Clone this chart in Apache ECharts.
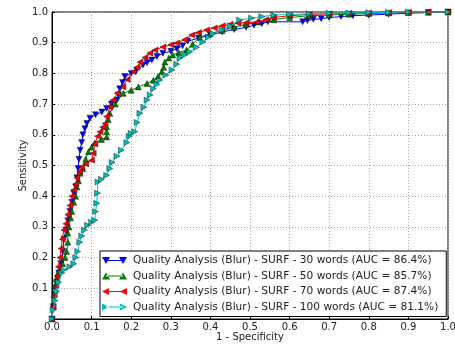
<!DOCTYPE html>
<html>
<head>
<meta charset="utf-8">
<script src="https://cdn.jsdelivr.net/npm/echarts@6/dist/echarts.min.js"></script>
<style>
  html, body { margin: 0; padding: 0; background: #fff; }
  #roc-chart { width: 455px; height: 345px; }
</style>
</head>
<body>
<div id="roc-chart"></div>
<script>
// [1 - specificity, sensitivity]
const roc30 = [[0,0],[0.003,0.04],[0.007,0.08],[0.012,0.12],[0.017,0.15],[0.022,0.18],[0.027,0.22],[0.03,0.26],[0.035,0.29],[0.04,0.32],[0.045,0.35],[0.05,0.38],[0.055,0.41],[0.06,0.43],[0.063,0.46],[0.066,0.49],[0.068,0.52],[0.071,0.55],[0.075,0.575],[0.078,0.6],[0.083,0.62],[0.088,0.637],[0.096,0.654],[0.11,0.665],[0.126,0.674],[0.138,0.686],[0.15,0.7],[0.164,0.713],[0.168,0.73],[0.171,0.75],[0.178,0.77],[0.184,0.79],[0.2,0.8],[0.214,0.81],[0.23,0.827],[0.24,0.835],[0.252,0.844],[0.265,0.855],[0.28,0.866],[0.3,0.872],[0.315,0.88],[0.33,0.89],[0.343,0.905],[0.37,0.915],[0.4,0.925],[0.43,0.935],[0.46,0.943],[0.49,0.95],[0.51,0.957],[0.53,0.962],[0.545,0.968],[0.633,0.968],[0.645,0.972],[0.66,0.976],[0.68,0.978],[0.7,0.982],[0.73,0.985],[0.76,0.988],[0.8,0.99],[0.85,0.993],[0.9,0.996],[0.95,0.998],[1,1]];
const roc50 = [[0,0],[0.003,0.04],[0.005,0.08],[0.008,0.11],[0.01,0.13],[0.015,0.15],[0.02,0.16],[0.027,0.18],[0.033,0.2],[0.037,0.22],[0.04,0.25],[0.04,0.28],[0.043,0.3],[0.047,0.33],[0.05,0.35],[0.055,0.38],[0.06,0.4],[0.063,0.43],[0.067,0.45],[0.071,0.475],[0.078,0.49],[0.085,0.52],[0.092,0.545],[0.1,0.56],[0.108,0.573],[0.125,0.585],[0.138,0.593],[0.138,0.61],[0.138,0.626],[0.142,0.65],[0.146,0.67],[0.16,0.7],[0.18,0.735],[0.2,0.745],[0.218,0.756],[0.24,0.767],[0.256,0.778],[0.268,0.79],[0.277,0.805],[0.282,0.82],[0.285,0.837],[0.295,0.85],[0.305,0.86],[0.32,0.868],[0.34,0.876],[0.355,0.895],[0.373,0.918],[0.4,0.93],[0.43,0.94],[0.46,0.95],[0.49,0.96],[0.52,0.968],[0.56,0.975],[0.6,0.982],[0.65,0.988],[0.7,0.99],[0.75,0.993],[0.8,0.995],[0.85,0.997],[0.9,0.998],[0.95,0.999],[1,1]];
const roc70 = [[0,0],[0.003,0.04],[0.006,0.08],[0.01,0.11],[0.013,0.14],[0.016,0.17],[0.02,0.2],[0.023,0.23],[0.026,0.26],[0.03,0.29],[0.035,0.31],[0.04,0.34],[0.045,0.37],[0.05,0.4],[0.055,0.42],[0.06,0.44],[0.063,0.46],[0.07,0.48],[0.075,0.495],[0.085,0.505],[0.1,0.517],[0.104,0.54],[0.108,0.57],[0.115,0.595],[0.121,0.61],[0.128,0.625],[0.134,0.637],[0.138,0.66],[0.146,0.69],[0.154,0.713],[0.165,0.735],[0.179,0.756],[0.19,0.78],[0.205,0.805],[0.215,0.82],[0.222,0.837],[0.235,0.852],[0.247,0.866],[0.26,0.876],[0.28,0.886],[0.3,0.893],[0.315,0.899],[0.335,0.91],[0.353,0.925],[0.37,0.933],[0.39,0.941],[0.41,0.948],[0.43,0.955],[0.45,0.96],[0.47,0.963],[0.49,0.965],[0.517,0.967],[0.54,0.975],[0.56,0.982],[0.6,0.988],[0.65,0.992],[0.7,0.994],[0.75,0.996],[0.8,0.997],[0.85,0.998],[0.9,0.999],[0.95,1],[1,1]];
const roc100 = [[0,0],[0.003,0.03],[0.008,0.06],[0.012,0.09],[0.017,0.12],[0.025,0.15],[0.03,0.16],[0.045,0.17],[0.055,0.18],[0.06,0.2],[0.065,0.22],[0.07,0.25],[0.075,0.27],[0.082,0.29],[0.09,0.305],[0.1,0.315],[0.108,0.322],[0.11,0.35],[0.113,0.377],[0.115,0.41],[0.116,0.446],[0.125,0.455],[0.138,0.468],[0.146,0.49],[0.152,0.51],[0.164,0.53],[0.175,0.55],[0.189,0.575],[0.195,0.595],[0.2,0.605],[0.209,0.61],[0.215,0.64],[0.222,0.67],[0.232,0.69],[0.24,0.713],[0.248,0.73],[0.256,0.75],[0.265,0.765],[0.272,0.778],[0.288,0.795],[0.303,0.811],[0.315,0.83],[0.323,0.85],[0.335,0.86],[0.348,0.87],[0.365,0.885],[0.381,0.902],[0.395,0.918],[0.406,0.93],[0.429,0.941],[0.45,0.955],[0.474,0.974],[0.504,0.98],[0.53,0.985],[0.56,0.99],[0.6,0.992],[0.65,0.994],[0.7,0.996],[0.75,0.997],[0.8,0.998],[0.85,0.999],[0.9,1],[1,1]];

const seriesNames = [
  "Quality Analysis (Blur) - SURF - 30 words (AUC = 86.4%)",
  "Quality Analysis (Blur) - SURF - 50 words (AUC = 85.7%)",
  "Quality Analysis (Blur) - SURF - 70 words (AUC = 87.4%)",
  "Quality Analysis (Blur) - SURF - 100 words (AUC = 81.1%)",
];
const seriesData = [roc30, roc50, roc70, roc100];
const seriesColors = ["#0000ff", "#008000", "#ff0000", "#00bfbf"];
const markerRotate = [180, 0, 90, -90];

// legend icons: line with a marker at each end (matplotlib style)
const legendIcons = [
  "path://M0,0L8,0L4,7ZM4,3L21,3L21,4L4,4ZM17,0L25,0L21,7Z",
  "path://M0,7L8,7L4,0ZM4,3L21,3L21,4L4,4ZM17,7L25,7L21,0Z",
  "path://M0,3.5L7,0L7,7ZM4,3L21,3L21,4L4,4ZM18,3.5L25,0L25,7Z",
  "path://M7,3.5L0,0L0,7ZM4,3L21,3L21,4L4,4ZM25,3.5L18,0L18,7Z",
];

const font = "DejaVu Sans";
const gridLine = { show: true, lineStyle: { type: [1, 2], color: "#a8a8a8", width: 1 } };

const option = {
  animation: false,
  textStyle: { fontFamily: font },
  grid: {
    left: 52, right: 7, top: 12, bottom: 26,
    containLabel: false,
    outerBoundsMode: "none",
    show: true, borderColor: "#000", borderWidth: 1,
  },
  xAxis: {
    type: "value", min: 0, max: 1, interval: 0.1,
    name: "1 - Specificity", nameLocation: "middle", nameGap: 13,
    nameMoveOverlap: false,
    nameTextStyle: { fontSize: 10, color: "#222", fontFamily: font },
    axisLine: { show: true, lineStyle: { color: "#000" } },
    axisTick: { show: true, inside: true, length: 3, lineStyle: { color: "#000" } },
    axisLabel: {
      fontSize: 10, color: "#222", margin: 3, fontFamily: font,
      formatter: (v) => v.toFixed(1),
    },
    splitLine: gridLine,
  },
  yAxis: {
    type: "value", min: 0, max: 1, interval: 0.1,
    name: "Sensitivity", nameLocation: "middle", nameGap: 24,
    nameMoveOverlap: false,
    nameTextStyle: { fontSize: 10, color: "#222", fontFamily: font },
    axisLine: { show: true, lineStyle: { color: "#000" } },
    axisTick: { show: true, inside: true, length: 3, lineStyle: { color: "#000" } },
    axisLabel: {
      fontSize: 10, color: "#222", margin: 4, fontFamily: font,
      formatter: (v) => (v === 0 ? "" : v.toFixed(1)),
    },
    splitLine: gridLine,
  },
  legend: {
    orient: "vertical", left: 100, top: 251,
    padding: [4, 8, 4, 2],
    itemGap: 4.5,
    itemWidth: 25, itemHeight: 7,
    backgroundColor: "#fff",
    borderColor: "#000", borderWidth: 1,
    symbolRotate: 0,
    textStyle: { fontSize: 10.6, color: "#222", fontFamily: font, padding: [0, 0, 0, 1] },
    data: seriesNames.map((name, i) => ({
      name,
      icon: legendIcons[i],
      itemStyle: { color: seriesColors[i], borderWidth: 0 },
    })),
  },
  series: seriesData.map((data, i) => ({
    name: seriesNames[i],
    type: "line",
    data: data,
    symbol: "triangle",
    symbolSize: 6,
    symbolRotate: markerRotate[i],
    showAllSymbol: true,
    lineStyle: { color: seriesColors[i], width: 1 },
    itemStyle: { color: seriesColors[i], borderColor: "#000", borderWidth: 0.4 },
    z: 2 + i,
  })),
};

const chartDom = document.getElementById("roc-chart");
const myChart = echarts.init(chartDom, null, { renderer: "canvas" });
myChart.setOption(option);
</script>
</body>
</html>
